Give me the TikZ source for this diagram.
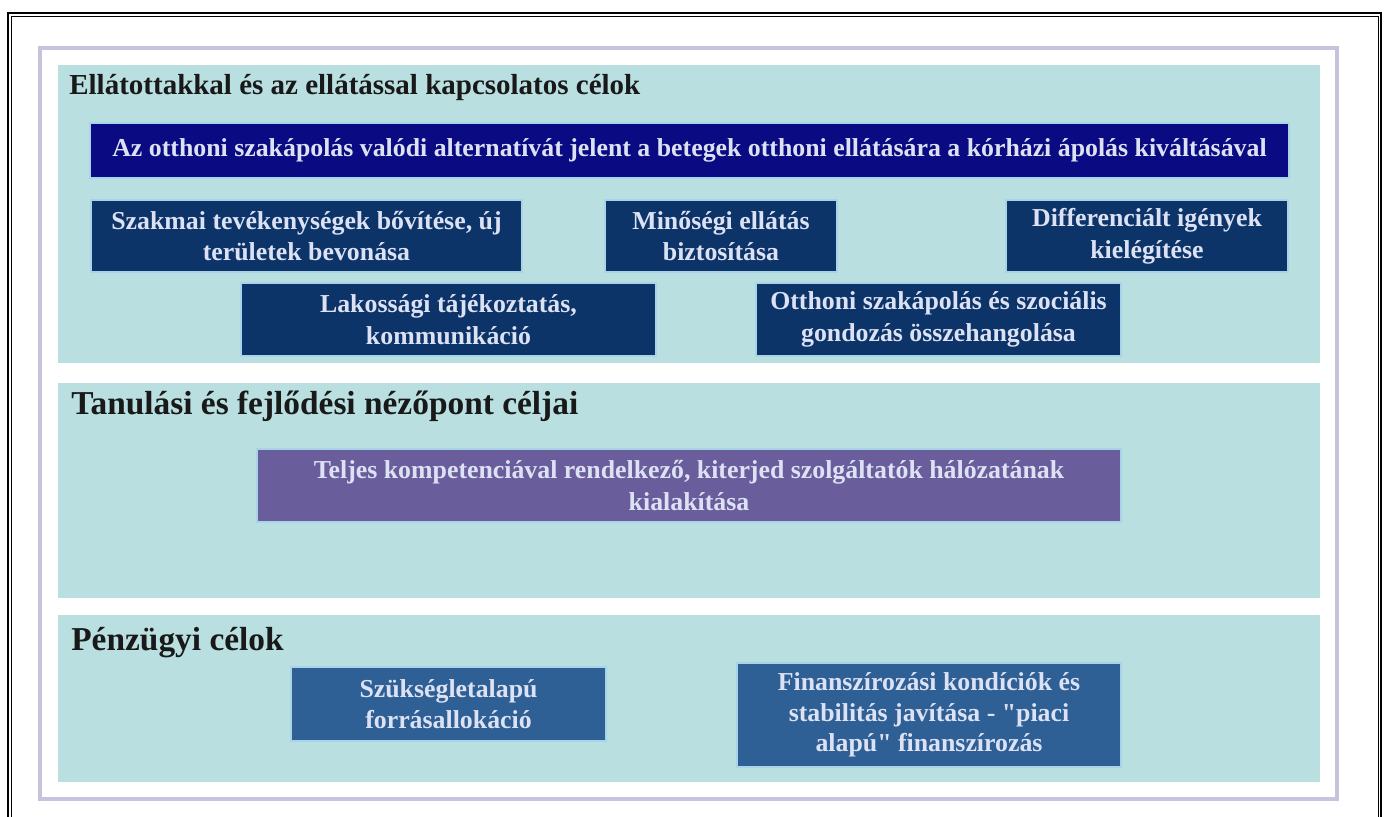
\documentclass[tikz,border=0pt]{standalone}
\usepackage{fontspec}
\setmainfont{Liberation Serif}[Ligatures=TeXOff]
\usepackage{xcolor}
\definecolor{panelTeal}{HTML}{B9DFE0}
\definecolor{frameLilac}{HTML}{C6C3DC}
\definecolor{bannerNavy}{HTML}{0A0A82}
\definecolor{goalNavy}{HTML}{0C3468}
\definecolor{goalPurple}{HTML}{6A5D9C}
\definecolor{goalSteel}{HTML}{2E5F95}
\definecolor{goalText}{HTML}{DCE2F4}
\definecolor{haloBlue}{HTML}{A9D3E6}
\tikzset{
    % Panels and headings
    panel/.style={rectangle, fill=panelTeal, inner sep=0pt, anchor=north west},
    heading/.style={anchor=west, inner sep=0pt, text=black!90,
                    font=\bfseries\fontsize{19}{22}\selectfont},
    % Goal boxes
    goal/.style={rectangle, draw=haloBlue, line width=0.8pt, fill=goalNavy,
                 text=goalText, align=center, inner sep=2pt,
                 font=\bfseries\fontsize{14.7}{18}\selectfont},
    banner/.style={goal, fill=bannerNavy},
    goalPurpleBox/.style={goal, fill=goalPurple},
    goalSteelBox/.style={goal, fill=goalSteel}
}
\begin{document}
\begin{tikzpicture}[x=0.02cm, y=-0.02cm]

\useasboundingbox (0,0) rectangle (1389,816);

% outer frames
\draw[line width=1.2pt] (8,830) -- (8,13) -- (1381,13) -- (1381,830);
\draw[line width=0.5pt] (11,830) -- (11,16) -- (1378,16) -- (1378,830);
\draw[frameLilac, line width=2.3pt] (40,48) rectangle (1337,799);

% panels
\node[panel, minimum width=25.24cm, minimum height=5.96cm] (p1) at (58,65) {};
\node[panel, minimum width=25.24cm, minimum height=4.3cm] (p2) at (58,383) {};
\node[panel, minimum width=25.24cm, minimum height=3.34cm] (p3) at (58,615) {};

\node[heading, font=\bfseries\fontsize{16.5}{20}\selectfont] (h1) at (69,88)
    {Ellátottakkal és az ellátással kapcsolatos célok};
\node[heading] (h2) at (71,406) {Tanulási és fejlődési nézőpont céljai};
\node[heading] (h3) at (71,643) {Pénzügyi célok};

% first panel
\node[banner, minimum width=23.98cm, minimum height=1.1cm] (alt) at (689.5,150.5)
    {Az otthoni szakápolás valódi alternatívát jelent a betegek otthoni ellátására a kórházi ápolás kiváltásával};
\node[goal, minimum width=8.62cm, minimum height=1.44cm] (szakmai) at (306.5,236)
    {Szakmai tevékenységek bővítése, új\\területek bevonása};
\node[goal, minimum width=4.64cm, minimum height=1.44cm] (minoseg) at (721,236)
    {Minőségi ellátás\\biztosítása};
\node[goal, minimum width=5.64cm, minimum height=1.44cm] (igeny) at (1147,236)
    {Differenciált igények\\kielégítése};
\node[goal, minimum width=8.3cm, minimum height=1.46cm] (lakos) at (448.5,319.5)
    {Lakossági tájékoztatás,\\kommunikáció};
\node[goal, minimum width=7.3cm, minimum height=1.46cm] (szocial) at (938.5,319.5)
    {Otthoni szakápolás és szociális\\gondozás összehangolása};

% second panel
\node[goalPurpleBox, minimum width=17.28cm, minimum height=1.46cm] (halozat) at (689,485.5)
    {Teljes kompetenciával rendelkező, kiterjed szolgáltatók hálózatának\\kialakítása};

% third panel
\node[goalSteelBox, minimum width=6.3cm, minimum height=1.48cm] (forras) at (448.5,704)
    {Szükségletalapú\\forrásallokáció};
\node[goalSteelBox, minimum width=7.68cm, minimum height=2.08cm,
      font=\bfseries\fontsize{14.7}{17.3}\selectfont] (finansz) at (929,715)
    {Finanszírozási kondíciók és\\stabilitás javítása - "piaci\\alapú" finanszírozás};

\end{tikzpicture}
\end{document}
